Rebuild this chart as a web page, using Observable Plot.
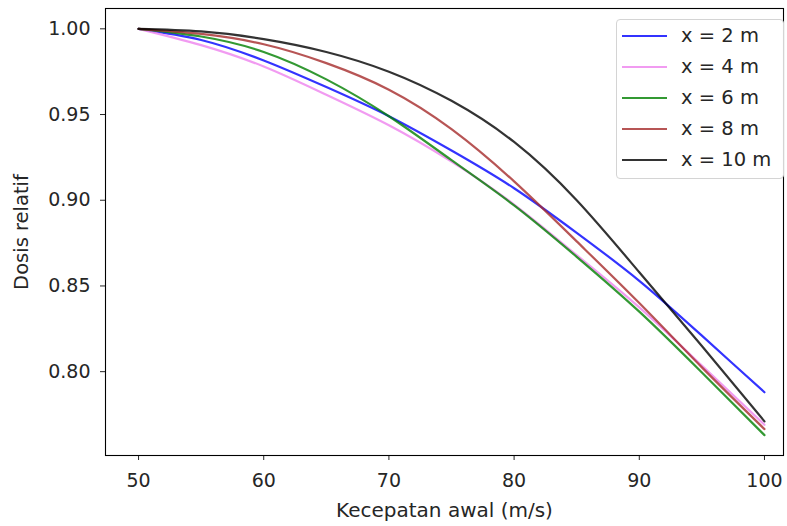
<!DOCTYPE html>
<html>
<head>
<meta charset="utf-8">
<script src="https://cdn.jsdelivr.net/npm/d3@7"></script>
<script src="https://cdn.jsdelivr.net/npm/@observablehq/plot@0.6"></script>
<style>
  body { margin: 0; background: #fff; }
  #wrap { position: relative; width: 787px; height: 526px; font-family: "DejaVu Sans", sans-serif; }
  .legend { position: absolute; left: 616px; top: 19px; width: 168px; height: 160px; box-sizing: border-box;
    border: 1px solid #d4d4d4; border-radius: 4px; background: rgba(255,255,255,0.8); }
  .legend .row { position: absolute; left: 0; height: 31px; display: flex; align-items: center; }
  .legend .sw { width: 45px; height: 0; border-top: 2.4px solid; margin-left: 5px; margin-right: 14px; }
  .legend .lb { font-size: 19.5px; color: #262626; white-space: nowrap; }
</style>
</head>
<body>
<div id="wrap"></div>
<script>
// Data
const speeds = [50, 55, 60, 65, 70, 75, 80, 85, 90, 95, 100];
const seriesLabels = ["x = 2 m", "x = 4 m", "x = 6 m", "x = 8 m", "x = 10 m"];
const seriesColors = ["#0000ff", "#ee82ee", "#008000", "#a52a2a", "#000000"];
const dose2  = [1.000, 0.9935, 0.9815, 0.966, 0.949, 0.929, 0.907, 0.881, 0.853, 0.821, 0.788];
const dose4  = [1.000, 0.9905, 0.978, 0.9615, 0.9437, 0.9225, 0.8975, 0.868, 0.8375, 0.8035, 0.769];
const dose6  = [1.000, 0.9955, 0.9865, 0.9705, 0.949, 0.9234, 0.897, 0.867, 0.835, 0.7995, 0.763];
const dose8  = [1.000, 0.997, 0.991, 0.980, 0.9645, 0.9415, 0.911, 0.876, 0.840, 0.8025, 0.7665];
const dose10 = [1.000, 0.9985, 0.994, 0.9865, 0.975, 0.958, 0.934, 0.900, 0.858, 0.815, 0.771];
const xTicks = [50, 60, 70, 80, 90, 100];
const yTicks = [0.80, 0.85, 0.90, 0.95, 1.00];

const allDoses = [dose2, dose4, dose6, dose8, dose10];
const rows = [];
allDoses.forEach((arr, i) => arr.forEach((d, j) => rows.push({s: seriesLabels[i], v: speeds[j], d})));

const chart = Plot.plot({
  width: 787,
  height: 526,
  marginLeft: 105,
  marginRight: 4,
  marginTop: 8,
  marginBottom: 71,
  style: {fontFamily: "DejaVu Sans", fontSize: "19px", color: "#262626", background: "#fff"},
  x: {domain: [47.36, 101.52]},
  y: {domain: [0.7511, 1.01185]},
  color: {domain: seriesLabels, range: seriesColors},
  marks: [
    Plot.axisX({ticks: xTicks, tickSize: 5, tickPadding: 13, label: null}),
    Plot.axisX({ticks: [], label: "Kecepatan awal (m/s)", labelAnchor: "center", labelOffset: 61, labelArrow: "none", fontSize: "20px"}),
    Plot.axisY({ticks: yTicks, tickSize: 5, tickPadding: 10, tickFormat: d3.format(".2f"), label: null}),
    Plot.axisY({ticks: [], label: "Dosis relatif", labelAnchor: "center", labelOffset: 91, labelArrow: "none", fontSize: "19.5px"}),
    Plot.line(rows, {x: "v", y: "d", z: "s", stroke: "s", strokeWidth: 2.2, strokeOpacity: 0.8, curve: "natural"}),
    Plot.frame({stroke: "#000", strokeWidth: 1.1})
  ]
});

const wrap = document.getElementById("wrap");
wrap.appendChild(chart);

const legend = document.createElement("div");
legend.className = "legend";
seriesLabels.forEach((lab, i) => {
  const row = document.createElement("div");
  row.className = "row";
  row.style.top = (i * 31) + "px";
  const sw = document.createElement("div");
  sw.className = "sw";
  sw.style.borderTopColor = seriesColors[i];
  sw.style.opacity = 0.8;
  const lb = document.createElement("span");
  lb.className = "lb";
  lb.textContent = lab;
  row.appendChild(sw);
  row.appendChild(lb);
  legend.appendChild(row);
});
wrap.appendChild(legend);
</script>
</body>
</html>
